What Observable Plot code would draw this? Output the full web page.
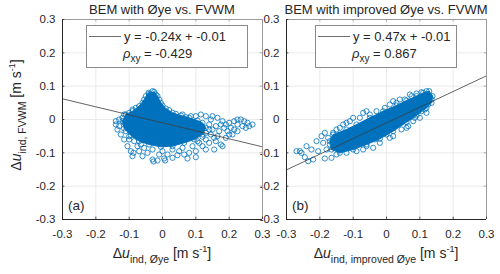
<!DOCTYPE html>
<html><head><meta charset="utf-8">
<script src="https://cdn.jsdelivr.net/npm/d3@7"></script>
<script src="https://cdn.jsdelivr.net/npm/@observablehq/plot@0.6"></script>
<style>
body{margin:0;background:#fff;font-family:"Liberation Sans",Arial,sans-serif;}
#wrap{position:relative;width:500px;height:274px;overflow:hidden;background:#fff;}
#wrap svg{position:absolute;top:0;}
.t{position:absolute;white-space:nowrap;color:#262626;line-height:1;}
.t sub{font-size:10.5px;vertical-align:-5px;line-height:0;}
.t sup{font-size:9px;vertical-align:6px;line-height:0;}
.leg{position:absolute;box-sizing:border-box;border:1px solid #8a8a8a;background:#fff;}
.legline{position:absolute;height:0;border-top:1px solid #6e6e6e;}
.leg .t{font-size:13px;}
.leg .t sub{font-size:10px;vertical-align:-4px;}
</style></head><body><div id="wrap"></div>
<script>
const tickValues = [-0.3, -0.2, -0.1, 0, 0.1, 0.2, 0.3];
const tickLabels = ["-0.3", "-0.2", "-0.1", "0", "0.1", "0.2", "0.3"];
const titles = ["BEM with Øye vs. FVWM", "BEM with improved Øye vs. FVWM"];
const panelLabels = ["(a)", "(b)"];
const slopes = [-0.24, 0.47];
const intercepts = [-0.01, -0.01];
const rhos = [-0.429, 0.867];
const xLabelSubs = ["ind, Øye", "ind, improved Øye"];
const yLabelSub = "ind, FVWM";

// panel (a): dense core outline and individual points [x, y]
const coreA = [[-0.042,0.080],[-0.025,0.083],[-0.015,0.070],[-0.005,0.050],[0.010,0.033],[0.030,0.020],[0.055,0.012],[0.080,0.005],[0.105,-0.003],[0.120,-0.010],[0.130,-0.025],[0.120,-0.045],[0.095,-0.060],[0.065,-0.070],[0.030,-0.080],[-0.005,-0.082],[-0.040,-0.075],[-0.070,-0.065],[-0.095,-0.048],[-0.115,-0.027],[-0.120,-0.005],[-0.110,0.015],[-0.090,0.025],[-0.070,0.040],[-0.055,0.060]];
const pointsA = [[-0.030,0.085],[-0.040,0.077],[-0.020,0.075],[-0.050,0.070],[-0.080,0.035],[-0.100,0.020],[-0.115,0.015],[-0.130,0.000],[-0.140,-0.015],[-0.135,-0.030],[-0.125,-0.045],[-0.115,-0.060],[-0.100,-0.060],[-0.105,-0.080],[-0.095,-0.095],[-0.090,-0.110],[-0.060,-0.110],[-0.030,-0.120],[-0.015,-0.123],[0.005,-0.117],[0.030,-0.115],[0.045,-0.107],[0.075,-0.117],[0.100,-0.113],[0.130,-0.090],[0.155,-0.090],[0.180,-0.080],[0.160,-0.065],[0.190,-0.055],[0.210,-0.045],[0.225,-0.035],[0.240,-0.020],[0.255,-0.010],[0.270,-0.015],[0.235,0.000],[0.215,-0.005],[0.200,-0.010],[0.180,-0.005],[0.165,0.005],[0.150,0.010],[0.130,0.010],[0.115,0.015],[0.100,0.010],[0.085,0.010],[0.070,0.007],[0.060,0.015],[0.040,0.017],[0.140,-0.015],[0.150,-0.030],[0.170,-0.035],[0.185,-0.025],[0.205,-0.025],[0.225,-0.015],[0.145,-0.045],[0.130,-0.060],[0.110,-0.070],[0.090,-0.080],[0.060,-0.085],[0.030,-0.090],[0.000,-0.095],[-0.030,-0.090],[-0.055,-0.085],[-0.075,-0.080],[-0.085,-0.065],[-0.110,-0.035],[-0.130,-0.020],[-0.140,-0.005],[-0.120,0.005],[-0.065,-0.075],[-0.045,-0.100],[0.015,-0.105],[0.050,-0.095],[0.080,-0.100],[0.120,-0.080],[0.165,-0.050],[0.175,-0.015],[0.130,-0.040],[0.195,-0.035],[0.215,-0.030],[0.250,-0.025],[0.245,-0.005],[0.225,0.000],[0.260,-0.020],[0.175,-0.075],[0.140,-0.070],[0.100,-0.095],[0.065,-0.105],[-0.010,-0.105],[-0.070,-0.095],[-0.100,-0.050],[-0.115,-0.010],[-0.060,0.050],[-0.010,0.060],[0.000,0.042],[0.020,0.028],[-0.090,0.030],[-0.105,0.008],[-0.027,-0.126],[0.008,-0.123],[-0.087,-0.100],[0.140,-0.030],[0.155,-0.055],[0.120,-0.052],[0.105,-0.065],[0.145,0.000],[0.190,-0.015],[0.200,-0.045],[0.160,-0.020]];

// panel (b)
const coreB = [[-0.170,-0.065],[-0.160,-0.045],[-0.120,-0.030],[-0.090,-0.015],[-0.050,0.005],[-0.010,0.025],[0.030,0.042],[0.060,0.057],[0.090,0.070],[0.110,0.080],[0.128,0.085],[0.138,0.070],[0.135,0.050],[0.120,0.035],[0.090,0.012],[0.060,-0.008],[0.020,-0.035],[-0.020,-0.058],[-0.060,-0.075],[-0.100,-0.090],[-0.140,-0.100],[-0.165,-0.090]];
const pointsB = [[-0.270,-0.095],[-0.255,-0.100],[-0.245,-0.113],[-0.235,-0.125],[-0.220,-0.120],[-0.225,-0.090],[-0.210,-0.065],[-0.195,-0.050],[-0.185,-0.040],[-0.190,-0.070],[-0.180,-0.090],[-0.165,-0.115],[-0.185,-0.117],[-0.160,-0.040],[-0.140,-0.025],[-0.130,-0.015],[-0.110,-0.005],[-0.100,0.005],[-0.080,0.005],[-0.070,0.020],[-0.050,0.015],[-0.030,0.025],[-0.005,0.035],[0.010,0.045],[0.030,0.050],[0.055,0.060],[0.075,0.070],[0.090,0.078],[0.105,0.082],[0.120,0.085],[-0.140,-0.060],[-0.125,-0.080],[-0.105,-0.070],[-0.090,-0.095],[-0.060,-0.080],[-0.040,-0.085],[-0.035,-0.060],[0.000,-0.045],[0.010,-0.055],[0.045,-0.030],[0.065,-0.020],[0.080,-0.005],[0.085,0.005],[0.105,0.025],[-0.170,-0.075],[-0.150,-0.105],[-0.205,-0.095],[-0.240,-0.080],[-0.260,-0.095],[0.135,0.060],[0.130,0.070],[0.125,0.045],[0.115,0.030],[-0.120,-0.010],[-0.060,0.025],[0.020,0.055],[0.040,0.060],[0.070,0.075],[0.020,-0.050],[0.060,-0.025],[0.100,0.005],[0.120,0.020],[-0.020,-0.070],[-0.070,-0.090],[-0.120,-0.100],[-0.150,-0.030],[-0.175,-0.055]];

const blue = "#0072BD";
const wrap = document.getElementById("wrap");

function fmtTick(d) {
  const i = tickValues.findIndex(v => Math.abs(v - d) < 1e-9);
  return i >= 0 ? tickLabels[i] : "";
}

function panel(k, core, pts, left) {
  const fitLine = [-0.3, 0.3].map(x => ({x, y: slopes[k] * x + intercepts[k]}));
  const lo = -0.3, hi = 0.3, t = 0.007;
  const svg = Plot.plot({
    width: 276, height: 274,
    marginLeft: 62, marginRight: 14, marginTop: 19, marginBottom: 55,
    style: {fontFamily: "Liberation Sans, Arial, sans-serif", fontSize: "11.5px", color: "#262626", background: "transparent", overflow: "visible"},
    x: {domain: [lo, hi]},
    y: {domain: [lo, hi]},
    marks: [
      Plot.gridX(tickValues, {stroke: "#e4e4e4", strokeOpacity: 1, strokeWidth: 0.8}),
      Plot.gridY(tickValues, {stroke: "#e4e4e4", strokeOpacity: 1, strokeWidth: 0.8}),
      Plot.axisX({ticks: tickValues, tickSize: 0, tickPadding: 10, tickFormat: fmtTick, label: null}),
      Plot.axisY({ticks: tickValues, tickSize: 0, tickPadding: 7, tickFormat: fmtTick, label: null}),
      Plot.line(core, {x: d => d[0], y: d => d[1], fill: blue, stroke: blue, strokeWidth: 1, curve: "linear-closed"}),
      Plot.dot(core.concat(pts), {x: d => d[0], y: d => d[1], r: 2.6, stroke: blue, strokeWidth: 0.8, fill: "none"}),
      Plot.line(fitLine, {x: "x", y: "y", stroke: "#3c3c3c", strokeWidth: 0.8}),
      Plot.ruleY([hi], {stroke: "#9a9a9a", strokeWidth: 1}),
      Plot.ruleX([hi], {stroke: "#9a9a9a", strokeWidth: 1}),
      Plot.ruleX(tickValues, {y1: lo, y2: lo + t, stroke: "#262626", strokeWidth: 0.8}),
      Plot.ruleY(tickValues, {x1: lo, x2: lo + t, stroke: "#262626", strokeWidth: 0.8}),
      Plot.ruleX(tickValues, {y1: hi, y2: hi - t, stroke: "#9a9a9a", strokeWidth: 0.8}),
      Plot.ruleY(tickValues, {x1: hi, x2: hi - t, stroke: "#9a9a9a", strokeWidth: 0.8}),
      Plot.ruleX([lo], {stroke: "#262626", strokeWidth: 1}),
      Plot.ruleY([lo], {stroke: "#262626", strokeWidth: 1})
    ]
  });
  svg.style.left = left + "px";
  wrap.appendChild(svg);

  const fx = left + 62, cx = fx + 100;
  const add = (html, css, cls = "t") => {
    const d = document.createElement("div");
    d.className = cls; d.innerHTML = html; d.style.cssText = css;
    wrap.appendChild(d); return d;
  };
  add(titles[k], `left:${cx}px;top:2.5px;font-size:13px;transform:translateX(-50%);`);
  add(panelLabels[k], `left:${fx + 6}px;top:${210 - 0.847 * 13.5}px;font-size:13.5px;`);
  add(`Δ<i>u</i><sub>${xLabelSubs[k]}</sub> [m s<sup>-1</sup>]`,
      `left:${cx}px;top:${258 - 0.847 * 14}px;font-size:14px;transform:translateX(-50%);`);
  const bx = k === 0 ? 86 : 315, bw = k === 0 ? 162 : 142;
  const leg = add("", `left:${bx}px;top:25px;width:${bw}px;height:43px;`, "leg");
  const ll = document.createElement("div");
  ll.className = "legline"; ll.style.cssText = "left:2px;top:9.5px;width:32px;";
  leg.appendChild(ll);
  const l1 = document.createElement("div"); l1.className = "t";
  l1.style.cssText = `left:37px;top:${15 - 0.847 * 13}px;`;
  l1.textContent = `y = ${slopes[k].toFixed(2)}x + ${intercepts[k].toFixed(2)}`;
  leg.appendChild(l1);
  const l2 = document.createElement("div"); l2.className = "t";
  l2.style.cssText = `left:36px;top:${32 - 0.847 * 13}px;`;
  l2.innerHTML = `<i>ρ</i><sub>xy</sub> = ${rhos[k].toFixed(3)}`;
  leg.appendChild(l2);
}

panel(1, coreB, pointsB, 224);
panel(0, coreA, pointsA, 0);

const yl = document.createElement("div");
yl.className = "t";
yl.innerHTML = `Δ<i>u</i><sub>${yLabelSub}</sub> [m s<sup>-1</sup>]`;
yl.style.cssText = "left:16px;top:115px;font-size:14px;transform:translate(-50%,-50%) rotate(-90deg);";
wrap.appendChild(yl);
</script></body></html>
